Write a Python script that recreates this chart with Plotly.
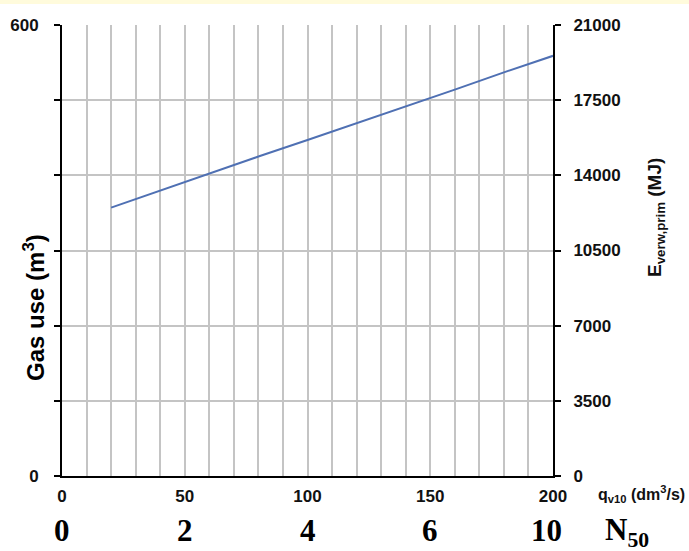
import plotly.graph_objects as go

# Data
q_v10 = [20, 40, 60, 80, 100, 120, 140, 160, 180, 200]
gas_use = [357, 380, 402, 425, 447, 469, 491, 514, 537, 559]

x_tick_vals = [0, 50, 100, 150, 200]
x_tick_text = ["0", "50", "100", "150", "200"]
n50_pos = [0, 50, 100, 150, 200]
n50_labels = ["0", "2", "4", "6", "10"]
left_tick_vals = [0, 600]
left_tick_text = ["0", "600"]
left_minor_step = 100
right_tick_vals = [0, 3500, 7000, 10500, 14000, 17500, 21000]
right_tick_text = ["0", "3500", "7000", "10500", "14000", "17500", "21000"]

W, H = 689, 551
ML, MR, MT, MB = 62, 136, 25, 75
pw = W - ML - MR
ph = H - MT - MB

SANS = "Liberation Sans, Arial"
SERIF = "Liberation Serif, Times New Roman"

fig = go.Figure()
fig.add_trace(go.Scatter(x=q_v10, y=gas_use, mode="lines",
                         line=dict(color="#4f70b3", width=2),
                         showlegend=False, hoverinfo="skip"))
fig.add_trace(go.Scatter(x=[None], y=[None], yaxis="y2", mode="lines",
                         showlegend=False, hoverinfo="skip"))

grid_col = "#c4c4c4"

fig.update_layout(
    width=W, height=H,
    margin=dict(l=ML, r=MR, t=MT, b=MB, autoexpand=False),
    plot_bgcolor="white", paper_bgcolor="white",
    xaxis=dict(range=[0, 200], tickvals=x_tick_vals, ticktext=x_tick_text,
               showgrid=True, gridcolor=grid_col, gridwidth=1.5,
               minor=dict(dtick=10, showgrid=True, gridcolor=grid_col, gridwidth=1.5),
               showline=True, linecolor="black", linewidth=2,
               ticks="", tickfont=dict(family=SANS, size=17, color="#111111", weight="bold"),
               ticklabelstandoff=4, zeroline=False, automargin=False),
    yaxis=dict(range=[0, 600], tickvals=left_tick_vals, ticktext=left_tick_text,
               showgrid=True, gridcolor=grid_col, gridwidth=1.5,
               minor=dict(dtick=left_minor_step, tick0=0, ticks="outside", ticklen=6,
                          tickwidth=2, tickcolor="black",
                          showgrid=True, gridcolor=grid_col, gridwidth=1.5),
               showline=True, linecolor="black", linewidth=2,
               ticks="outside", ticklen=6, tickwidth=2, tickcolor="black",
               tickfont=dict(family=SANS, size=17, color="#111111", weight="bold"),
               ticklabelstandoff=12, zeroline=False, automargin=False),
    yaxis2=dict(range=[0, 21000], overlaying="y", side="right",
                tickvals=right_tick_vals, ticktext=right_tick_text,
                showgrid=False, showline=True, linecolor="black", linewidth=2,
                ticks="outside", ticklen=6, tickwidth=2, tickcolor="black",
                tickfont=dict(family=SANS, size=17, color="#111111", weight="bold"),
                ticklabelstandoff=9, zeroline=False, automargin=False),
)

# left axis title
fig.add_annotation(x=(34 - ML) / pw, xref="paper",
                   y=1 - (308 - MT) / ph, yref="paper",
                   text="<b>Gas use (m<sup>3</sup>)</b>", showarrow=False, textangle=-90,
                   font=dict(family=SANS, size=24, color="black"),
                   xanchor="center", yanchor="middle")

# Second row of x labels (N50)
for p, lab in zip(n50_pos, n50_labels):
    fig.add_annotation(x=p, xref="x", y=-(530 - (H - MB)) / ph, yref="paper",
                       text="<b>" + lab + "</b>", showarrow=False,
                       font=dict(family=SERIF, size=31, color="black"),
                       xanchor="center", yanchor="middle",
                       xshift=(-7 if lab == "10" else 0))
fig.add_annotation(x=(627 - ML) / pw, xref="paper",
                   y=-(532 - (H - MB)) / ph, yref="paper",
                   text="<b>N<sub>50</sub></b>", showarrow=False,
                   font=dict(family=SERIF, size=31, color="black"),
                   xanchor="center", yanchor="middle")

# x-axis title
fig.add_annotation(x=(596 - ML) / pw, xref="paper",
                   y=-(494 - (H - MB)) / ph, yref="paper",
                   text="<b>q<sub>v10</sub> (dm<sup>3</sup>/s)</b>", showarrow=False,
                   font=dict(family=SANS, size=16, color="#111111"),
                   xanchor="left", yanchor="middle")

# right axis title
fig.add_annotation(x=(656 - ML) / pw, xref="paper",
                   y=1 - (218 - MT) / ph, yref="paper",
                   text="<b>E<sub>verw,prim</sub> (MJ)</b>", showarrow=False, textangle=-90,
                   font=dict(family=SANS, size=19, color="#111111"),
                   xanchor="center", yanchor="middle")

# faint yellow strip at the very top
fig.add_shape(type="rect", xref="paper", yref="paper",
              x0=-ML / pw, x1=1 + MR / pw,
              y0=1 + 21 / ph, y1=1 + MT / ph,
              fillcolor="#fffbdc", line=dict(width=0), layer="below")

fig.write_html("out.html", config={"displayModeBar": False},
               post_script="document.body.style.margin='0';")
